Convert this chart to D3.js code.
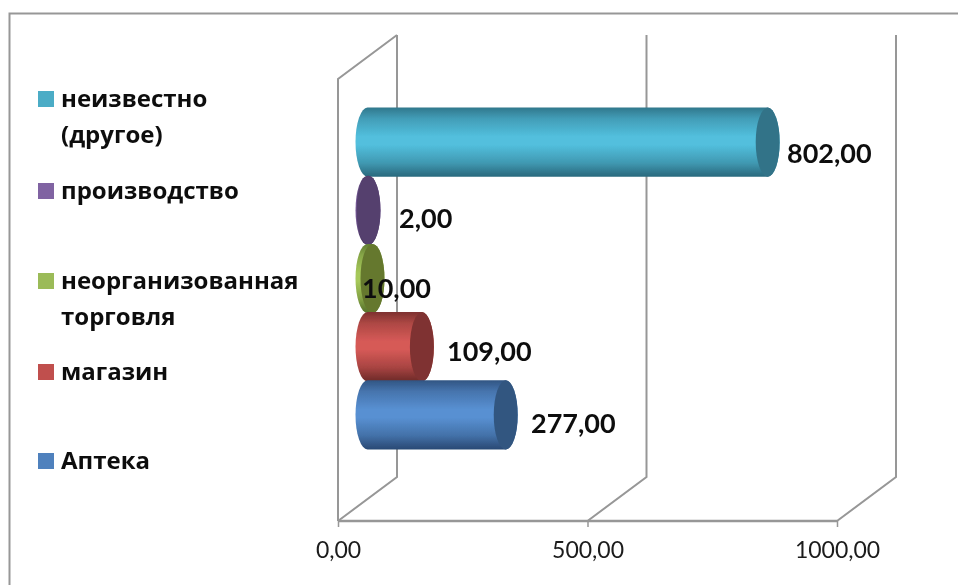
<!DOCTYPE html>
<html><head><meta charset="utf-8">
<script src="https://cdn.jsdelivr.net/npm/d3@7"></script>
<style>html,body{margin:0;padding:0;background:#fff}svg{display:block}text{font-family:"Open Sans","Noto Sans",sans-serif}</style>
</head><body><svg id="c" width="958" height="585"></svg>
<script>
const categories=["неизвестно (другое)","производство","неорганизованная торговля","магазин","Аптека"];
const values=[802,2,10,109,277];
const legendLines=[["неизвестно","(другое)"],["производство"],["неорганизованная","торговля"],["магазин"],["Аптека"]];
const tickValues=[0,500,1000];
const mainColors=["#52bfdd","#7b5c9c","#a6c85a","#d65a57","#5890d2"];
const edgeColors=["#2a6a7e","#3f2d55","#55702a","#6f2a28","#2a4a75"];
const capColors=["#327388","#54406e","#65782f","#7f3330","#335780"];
const legendColors=["#4bacc6","#8064a2","#9bbb59","#c0504d","#4f81bd"];
const fmt=v=>d3.format(".2f")(v).replace(".",",");

const root=d3.select("#c");
const gray="#979797";
root.append("defs").append("filter").attr("id","soft")
  .attr("filterUnits","userSpaceOnUse").attr("x",0).attr("y",0).attr("width",958).attr("height",585)
  .append("feGaussianBlur").attr("stdDeviation",0.45);
const svg=root.append("g").attr("filter","url(#soft)");
const x=d3.scaleLinear().domain([0,1000]).range([338,837]);
const y=d3.scaleBand().domain(categories).range([108,449]).paddingInner(0).paddingOuter(0);
const depthX=59,depthY=-44,frontBottom=521,frontTop=79;
const barStart=29.5,capRx=12;

// frame
svg.append("path").attr("d",`M9.5,585V13.5H958`).attr("fill","none").attr("stroke",gray).attr("stroke-width",2);

const defs=root.select("defs");
categories.forEach((c,i)=>{
  const g=defs.append("linearGradient").attr("id","g"+i).attr("x1",0).attr("x2",0).attr("y1",0).attr("y2",1);
  const mix=t=>d3.interpolateRgb(edgeColors[i],mainColors[i])(t);
  [[0,mix(.15)],[.16,mix(.6)],[.42,mainColors[i]],[.54,mainColors[i]],[.8,mix(.55)],[.95,mix(.12)],[1,edgeColors[i]]]
   .forEach(s=>g.append("stop").attr("offset",s[0]).attr("stop-color",s[1]));
});

// walls and gridlines
const grid=svg.append("g").attr("fill","none").attr("stroke",gray).attr("stroke-width",2);
grid.selectAll("path.g").data(tickValues).join("path").attr("class","g")
  .attr("d",d=>`M${x(d)},${frontBottom}L${x(d)+depthX},${frontBottom+depthY}V${frontTop+depthY}`);
grid.append("path").attr("d",`M${x(0)},${frontBottom}V${frontTop}L${x(0)+depthX},${frontTop+depthY}`);

// value axis
const axis=svg.append("g").attr("transform",`translate(0,${frontBottom})`)
  .call(d3.axisBottom(x).tickValues(tickValues).tickFormat(fmt).tickSize(6).tickPadding(15));
axis.select(".domain").attr("stroke",gray).attr("stroke-width",2.5).attr("d",`M${x(0)},0H${x(1000)}`);
axis.selectAll(".tick line").attr("stroke",gray).attr("stroke-width",1.5);
axis.selectAll(".tick text").attr("fill","#1a1a1a").attr("font-size",23).style("font-family","Lato");

// bars
const bars=svg.append("g").selectAll("g").data(categories).join("g");
const x0=x(0)+barStart;
const len=v=>x(v)-x(0);
bars.append("path").attr("fill",(d,i)=>`url(#g${i})`)
  .attr("d",(d,i)=>{const t=y(d)-0.5,b=y(d)+y.bandwidth()+0.5,e=x0+len(values[i]),r=(b-t)/2;
    return `M${x0},${t}A${capRx},${r} 0 0 0 ${x0},${b}L${e},${b}A${capRx},${r} 0 0 0 ${e},${t}Z`;});
bars.append("ellipse").attr("fill",(d,i)=>capColors[i])
  .attr("cx",(d,i)=>x0+len(values[i])).attr("cy",d=>y(d)+y.bandwidth()/2)
  .attr("rx",capRx).attr("ry",d=>y.bandwidth()/2+0.5);

// data labels
const labelPos=[[787,163],[399,228],[362,298],[447,361],[531,433]];
svg.append("g").selectAll("text").data(values).join("text")
  .attr("x",(d,i)=>labelPos[i][0]).attr("y",(d,i)=>labelPos[i][1])
  .attr("font-size",27).attr("font-weight",700).attr("fill","#111").style("font-family","Lato").text(fmt);

// legend
const legendY=[99,191,281,372,461];
const leg=svg.append("g").selectAll("g").data(categories).join("g");
leg.append("rect").attr("x",38).attr("y",(d,i)=>legendY[i]-8).attr("width",16).attr("height",16).attr("fill",(d,i)=>legendColors[i]);
leg.selectAll("text").data((d,i)=>legendLines[i].map((t,j)=>({t,j,i}))).join("text")
  .attr("x",61).attr("y",d=>legendY[d.i]+8+d.j*36).attr("font-size",24).attr("font-weight",700).attr("fill","#111").text(d=>d.t);
</script></body></html>
